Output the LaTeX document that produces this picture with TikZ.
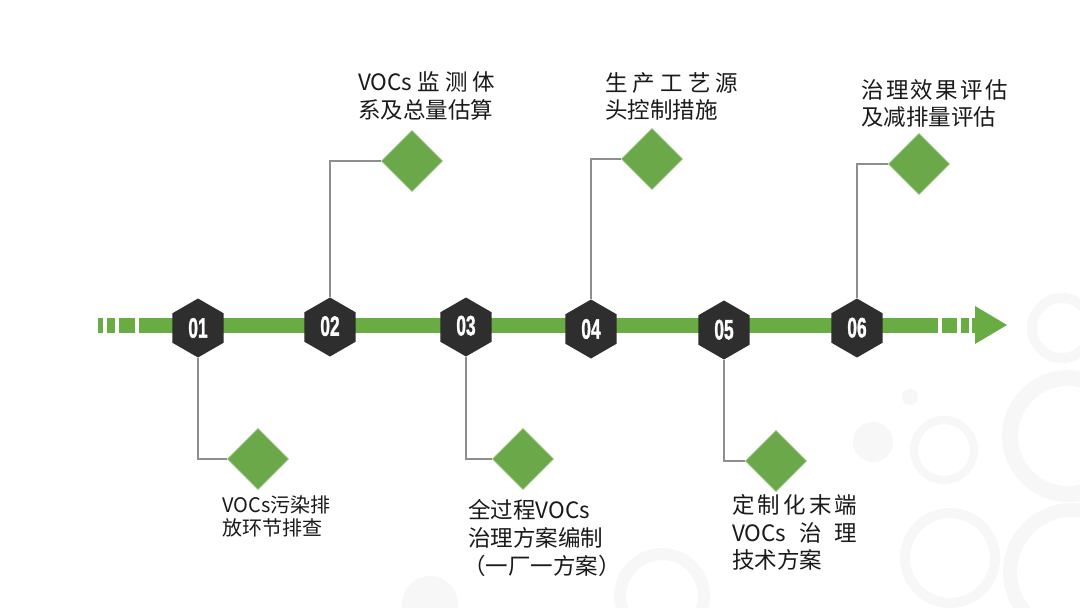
\documentclass[tikz,border=0pt]{standalone}
\usepackage{fontspec}
\newfontfamily\cjk{Noto Sans CJK SC}
\newfontfamily\numfont{Liberation Sans}[BoldFeatures={FakeBold=1.5}]
\usetikzlibrary{shapes.geometric}
\definecolor{bargreen}{HTML}{6AAC44}
\definecolor{dgreen}{HTML}{6AA84A}
\definecolor{hexdark}{HTML}{2E2E2E}
\definecolor{conngray}{HTML}{8E8E8E}
\definecolor{txtcol}{HTML}{1A1A1A}
\definecolor{decogray}{HTML}{F7F7F7}
\newcommand{\jl}[2]{\makebox[#1][s]{#2}}
\newcommand{\hexnum}[1]{\scalebox{0.62}[1]{#1}}
\begin{document}
\begin{tikzpicture}[x=1pt,y=-1pt,
  hexbox/.style={regular polygon, regular polygon sides=6, shape border rotate=30,
    minimum size=59pt, inner sep=0pt, fill=hexdark, text=white,
    font=\numfont\bfseries\fontsize{28}{28}\selectfont},
  gem/.style={diamond, aspect=1, minimum width=61pt, minimum height=61pt, inner sep=0pt,
    fill=dgreen, draw=dgreen!75!white, line width=0.8pt},
  conn/.style={draw=conngray, line width=1.1pt},
  lbl/.style={anchor=base west, inner sep=0pt, text=txtcol, font=\cjk\fontsize{22.5}{27}\selectfont},
  lblsm/.style={lbl, font=\cjk\fontsize{20}{24}\selectfont},
  ring/.style={draw=decogray},
  barpart/.style={fill=bargreen}
]
\useasboundingbox[fill=white] (0,0) rectangle (1080,608);

% faint decorative circles
\draw[ring, line width=10pt] (1062,328) circle (30);
\draw[ring, line width=16pt] (1068,436) circle (58);
\draw[ring, line width=8pt] (944,450) circle (30);
\fill[decogray] (873,442) circle (20);
\fill[decogray] (910,397) circle (8);
\draw[ring, line width=10pt] (950,558) circle (45);
\draw[ring, line width=14pt] (1072,572) circle (62);
\draw[ring, line width=12pt] (662,596) circle (42);
\fill[decogray] (430,604) circle (28);

% main bar
\fill[barpart] (98,318) rectangle (103,333);
\fill[barpart] (107,318) rectangle (115,333);
\fill[barpart] (119,318) rectangle (135,333);
\fill[barpart] (139,318) rectangle (938,333);
\fill[barpart] (942,318) rectangle (957,333);
\fill[barpart] (961,318) rectangle (969,333);
\fill[barpart] (972,318) rectangle (976,333);
\fill[barpart] (975,306) -- (1007,325) -- (975,344) -- cycle;

% hexagons
\node[hexbox] (h1) at (198,328) {\raisebox{0pt}{\hexnum{01}}};
\node[hexbox] (h2) at (330,327) {\raisebox{2pt}{\hexnum{02}}};
\node[hexbox] (h3) at (466,327) {\raisebox{3pt}{\hexnum{03}}};
\node[hexbox] (h4) at (591,329) {\raisebox{0pt}{\hexnum{04}}};
\node[hexbox] (h5) at (724,330) {\raisebox{1pt}{\hexnum{05}}};
\node[hexbox] (h6) at (857,328) {\raisebox{1pt}{\hexnum{06}}};

% diamonds
\node[gem] (d1) at (258,459) {};
\node[gem] (d2) at (412,161) {};
\node[gem] (d3) at (523,459) {};
\node[gem] (d4) at (652,159) {};
\node[gem] (d5) at (776,461) {};
\node[gem] (d6) at (919,164) {};

% connectors
\draw[conn] (h1.south) |- (d1.west);
\draw[conn] (h2.north) |- (d2.west);
\draw[conn] (h3.south) |- (d3.west);
\draw[conn] (h4.north) |- (d4.west);
\draw[conn] (h5.south) |- (d5.west);
\draw[conn] (h6.north) |- (d6.west);

% labels
\node[lblsm] (t1a) at (222,512.5) {VOCs污染排};
\node[lblsm] (t1b) at (222,535.5) {放环节排查};

\node[lbl] (t2a) at (358,90) {\jl{137pt}{VOCs\hfill 监\hfill 测\hfill 体}};
\node[lbl] (t2b) at (358,118.5) {系及总量估算};

\node[lbl] (t3a) at (468,518) {全过程VOCs};
\node[lbl] (t3b) at (468,546) {治理方案编制};
\node[lbl] (t3c) at (463,574) {（一厂一方案）};

\node[lbl] (t4a) at (605,91.5) {\jl{133pt}{生\hfill 产\hfill 工\hfill 艺\hfill 源}};
\node[lbl] (t4b) at (605,118.5) {头控制措施};

\node[lbl] (t5a) at (732,513.5) {\jl{125pt}{定\hfill 制\hfill 化\hfill 末\hfill 端}};
\node[lbl] (t5b) at (732,541.5) {\jl{125pt}{VOCs\hfill 治\hfill 理}};
\node[lbl] (t5c) at (732,568.5) {技术方案};

\node[lbl] (t6a) at (861,98.5) {\jl{147pt}{治\hfill 理\hfill 效\hfill 果\hfill 评\hfill 估}};
\node[lbl] (t6b) at (861,125.5) {及减排量评估};
\end{tikzpicture}
\end{document}
